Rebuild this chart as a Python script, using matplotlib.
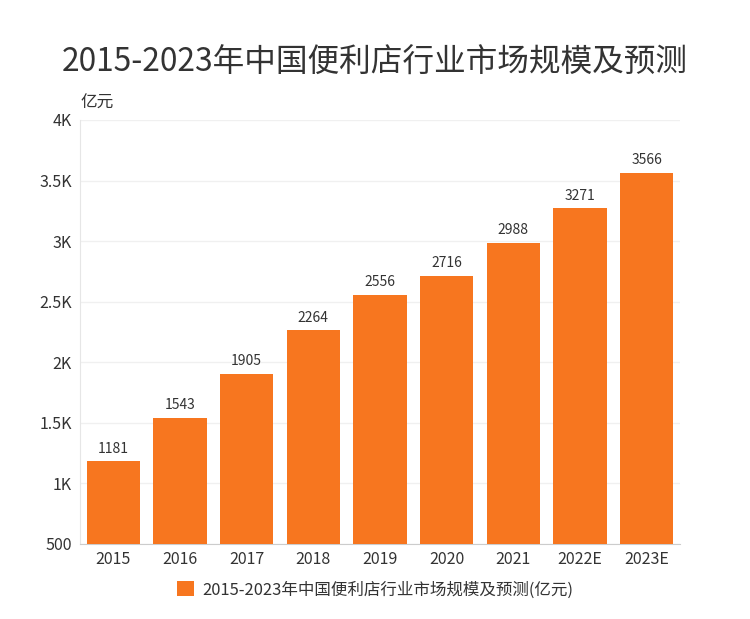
import matplotlib
matplotlib.use("Agg")
import matplotlib.pyplot as plt
from matplotlib.ticker import FuncFormatter
from matplotlib.patches import Patch

plt.rcParams['font.family'] = ['Noto Sans CJK SC', 'DejaVu Sans']

# 数据
years = ["2015", "2016", "2017", "2018", "2019", "2020", "2021", "2022E", "2023E"]
market_size = [1181, 1543, 1905, 2264, 2556, 2716, 2988, 3271, 3566]
y_ticks = [500, 1000, 1500, 2000, 2500, 3000, 3500, 4000]

bar_color = '#F7761F'
text_color = '#333333'

fig = plt.figure(figsize=(7.5, 6.19), dpi=100)
ax = fig.add_axes([0.1067, 0.1212, 0.80, 0.685])

x = range(len(years))
bars = ax.bar(x, market_size, width=0.8, color=bar_color, zorder=3)

for xi, v in zip(x, market_size):
    ax.text(xi, v + 45, str(v), ha='center', va='bottom', fontsize=10, color=text_color)

def fmt(v, pos):
    if v >= 1000:
        k = v / 1000
        return f"{k:g}K"
    return f"{int(v)}"

ax.set_ylim(500, 4000)
ax.set_yticks(y_ticks)
ax.yaxis.set_major_formatter(FuncFormatter(fmt))
ax.set_xlim(-0.5, len(years) - 0.5)
ax.set_xticks(list(x))
ax.set_xticklabels(years)

ax.grid(axis='y', color='#f0f0f0', linewidth=1, zorder=0)
for side in ['top', 'right']:
    ax.spines[side].set_visible(False)
ax.spines['left'].set_color('#e6e6e6')
ax.spines['bottom'].set_color('#cccccc')
ax.tick_params(axis='y', length=0, labelsize=11.5, colors=text_color, pad=6)
ax.tick_params(axis='x', length=0, labelsize=11.5, colors=text_color, pad=5)

ax.text(0.0, 1.02, "亿元", transform=ax.transAxes, ha='left', va='bottom',
        fontsize=12, color=text_color)

fig.text(0.5, 0.898, "2015-2023年中国便利店行业市场规模及预测", ha='center', va='center',
         fontsize=22.8, color='#333333')

handle = Patch(facecolor=bar_color, edgecolor='none')
fig.legend([handle], ["2015-2023年中国便利店行业市场规模及预测(亿元)"], loc='center',
           bbox_to_anchor=(0.5, 0.047), frameon=False, fontsize=11.9,
           handlelength=1.0, handleheight=1.0, handletextpad=0.5, labelcolor=text_color)

fig.savefig("out.png", dpi=100)
